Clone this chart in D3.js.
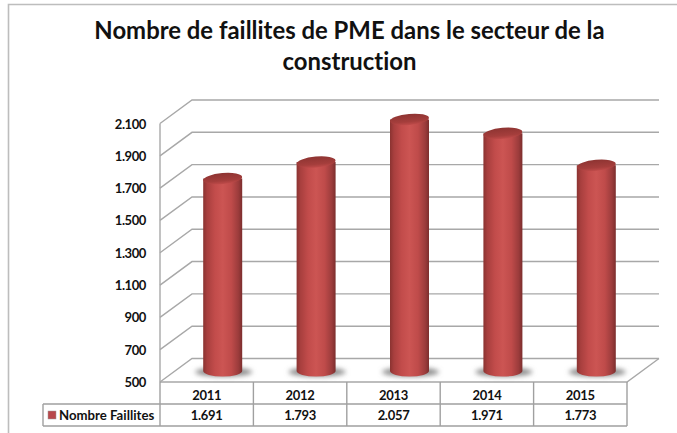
<!DOCTYPE html>
<html>
<head>
<meta charset="utf-8">
<script src="https://cdn.jsdelivr.net/npm/d3@7"></script>
<style>
  html, body { margin: 0; padding: 0; background: #fff; overflow: hidden; }
  svg { display: block; }
  text { font-family: Lato, "Open Sans", sans-serif; font-weight: 700; fill: #111; font-variant-ligatures: none; }
  .grid { stroke: #a8a8a8; stroke-width: 1.4; fill: none; }
  .cell { stroke: #a0a0a0; stroke-width: 1.4; fill: none; }
</style>
</head>
<body>
<svg width="677" height="433"></svg>
<script>
const titleLines = ["Nombre de faillites de PME dans le secteur de la", "construction"];
const years = ["2011", "2012", "2013", "2014", "2015"];
const faillites = [1691, 1793, 2057, 1971, 1773];
const valueLabels = ["1.691", "1.793", "2.057", "1.971", "1.773"];
const yTicks = [500, 700, 900, 1100, 1300, 1500, 1700, 1900, 2100];
const seriesName = "Nombre Faillites";

const svg = d3.select("svg");
const defs = svg.append("defs");

// front plane of the fake 3D box, the back wall is shifted by depth
const depth = { x: 32, y: -23.5 };
const plot = { left: 160, right: 627, top: 123.5, bottom: 382 };
const table = { left: 43, row1: 404, row2: 426 };

const xScale = d3.scaleBand().domain(years).range([plot.left, plot.right]);
const yScale = d3.scaleLinear().domain([500, 2100]).range([plot.bottom, plot.top]);
const fmt = d => d3.format(",")(d).replace(",", ".");

const bodyGrad = defs.append("linearGradient").attr("id", "body");
[[0, "#8a3331"], [0.1, "#a83f3e"], [0.3, "#c24c4b"], [0.5, "#cc5553"], [0.72, "#bf4b4a"], [0.9, "#9c3c3c"], [1, "#7c2e2d"]]
  .forEach(s => bodyGrad.append("stop").attr("offset", s[0]).attr("stop-color", s[1]));

const topGrad = defs.append("linearGradient").attr("id", "cap").attr("x1", 0).attr("x2", 0).attr("y1", 0).attr("y2", 1);
[[0, "#8e3432"], [0.7, "#a53e3c"], [1, "#c04b4a"]]
  .forEach(s => topGrad.append("stop").attr("offset", s[0]).attr("stop-color", s[1]));

defs.append("filter").attr("id", "soft").attr("x", "-30%").attr("y", "-80%").attr("width", "160%").attr("height", "260%")
  .append("feGaussianBlur").attr("stdDeviation", 2.6);

// outer frame, cut off by the window on the right and at the bottom
svg.append("path").attr("d", "M677,4.5H8.5V433").attr("fill", "none").attr("stroke", "#bdbdbd").attr("stroke-width", 1.6);

const title = svg.append("text").attr("text-anchor", "middle").attr("font-size", 23.9);
titleLines.forEach((t, i) => {
  title.append("tspan").attr("x", 349.5).attr("y", 39 + i * 31).text(t);
});

const walls = svg.append("g");
walls.selectAll(".back")
  .data(yTicks)
  .join("path")
  .attr("class", "grid")
  .attr("d", d => `M${plot.left},${yScale(d)}L${plot.left + depth.x},${yScale(d) + depth.y}H${plot.right + depth.x}`);
walls.append("path").attr("class", "grid").attr("d", `M${plot.left},${plot.top}V${plot.bottom}`);
walls.append("path").attr("class", "grid")
  .attr("d", `M${plot.left},${plot.bottom}H${plot.right}L${plot.right + depth.x},${plot.bottom + depth.y}`);

const yLabels = svg.append("g").attr("font-size", 13).attr("letter-spacing", -0.4);
yLabels.selectAll("text")
  .data(yTicks)
  .join("text")
  .attr("x", 146)
  .attr("y", d => yScale(d) + 5)
  .attr("text-anchor", "end")
  .text(fmt);

// cylinders sit half way into the floor depth
const rx = 19.5, ry = 5.5, lift = 11;
const cx = d => xScale(d) + xScale.bandwidth() / 2 + depth.x / 2;
const baseY = plot.bottom - lift;
const rows = years.map((y, i) => ({ year: y, value: faillites[i], label: valueLabels[i] }));

const bars = svg.append("g").selectAll("g").data(rows).join("g");
bars.append("ellipse")
  .attr("cx", d => cx(d.year) + 1)
  .attr("cy", baseY + 1)
  .attr("rx", rx + 9)
  .attr("ry", 4.5)
  .attr("fill", "#8a8a8a")
  .attr("filter", "url(#soft)");
bars.append("path")
  .attr("fill", "url(#body)")
  .attr("d", d => {
    const x = cx(d.year), top = yScale(d.value) - lift;
    return `M${x - rx},${top}V${baseY}A${rx},${ry} 0 0 0 ${x + rx},${baseY}V${top}Z`;
  });
bars.append("ellipse")
  .attr("cx", 0).attr("cy", 0)
  .attr("rx", rx).attr("ry", ry)
  .attr("fill", "url(#cap)")
  .attr("transform", d => `translate(${cx(d.year)},${yScale(d.value) - lift}) rotate(-5)`);

// data table under the plot
const tableG = svg.append("g");
const edges = xScale.domain().map(d => xScale(d)).concat(plot.right);
tableG.selectAll(".col")
  .data(edges)
  .join("path")
  .attr("class", "cell")
  .attr("d", d => `M${d},${plot.bottom}V${table.row2}`);
tableG.append("path").attr("class", "cell")
  .attr("d", `M${table.left},${table.row1}H${plot.right}M${table.left},${table.row2}H${plot.right}M${table.left},${table.row1}V${table.row2}`);

tableG.selectAll(".year")
  .data(rows)
  .join("text")
  .attr("x", d => xScale(d.year) + xScale.bandwidth() / 2)
  .attr("y", 400)
  .attr("text-anchor", "middle")
  .attr("font-size", 13)
  .attr("letter-spacing", -0.3)
  .text(d => d.year);
tableG.selectAll(".val")
  .data(rows)
  .join("text")
  .attr("x", d => xScale(d.year) + xScale.bandwidth() / 2)
  .attr("y", 420)
  .attr("text-anchor", "middle")
  .attr("font-size", 13)
  .attr("letter-spacing", -0.3)
  .text(d => d.label);

tableG.append("rect").attr("x", 48).attr("y", 411).attr("width", 8).attr("height", 8).attr("fill", "#b8474a").attr("stroke", "#9c9c9c").attr("stroke-width", 0.5);
tableG.append("text").attr("x", 59).attr("y", 420).attr("font-size", 13.2).text(seriesName);
</script>
</body>
</html>
